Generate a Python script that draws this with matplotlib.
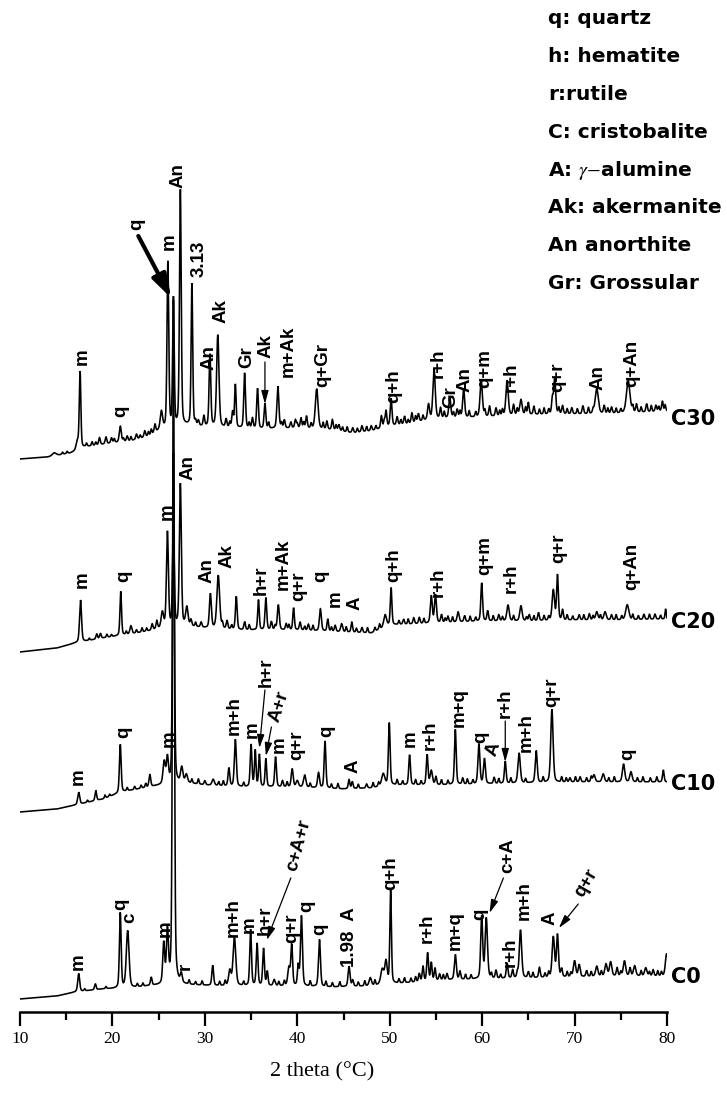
import numpy as np
import matplotlib
matplotlib.use("Agg")
import matplotlib.pyplot as plt

W, H = 727, 1094
AX_L, AX_R, AX_B = 20, 667, 1012   # pixel frame of the plotting area

# ---------------- data (heights in pixels) ----------------
# backgrounds: (2theta, pixel-row of the baseline)
c30_bg_x = [10, 13, 15.5, 17, 20, 22, 24, 25, 26, 28, 30, 33, 36, 40, 44, 46, 48, 50, 52, 54, 56, 60, 64, 68, 72, 76, 80]
c30_bg_y = [459, 457, 453, 447, 443, 441, 436, 431, 429, 426, 427, 428, 429, 428, 430, 433, 431, 426, 424, 420, 418, 417, 415, 414, 414, 413, 411]
c20_bg_x = [10, 14, 16, 19, 22, 24, 25.5, 28, 30, 34, 40, 45, 48, 50, 55, 60, 65, 70, 75, 80]
c20_bg_y = [652, 648, 643, 638, 634, 631, 628, 626, 628, 630, 630, 632, 633, 625, 623, 621, 621, 620, 620, 619]
c10_bg_x = [10, 14, 16, 19, 21, 24, 26, 28, 30, 34, 40, 45, 48, 50, 55, 60, 65, 70, 75, 80]
c10_bg_y = [812, 809, 805, 799, 792, 787, 784, 783, 785, 787, 787, 789, 788, 785, 785, 784, 783, 782, 782, 782]
c0_bg_x = [10, 14, 16, 19, 22, 24, 26, 28, 32, 38, 44, 48, 50, 53, 56, 60, 65, 70, 75, 80]
c0_bg_y = [999, 996, 992, 989, 988, 986, 985, 985, 986, 986, 987, 986, 984, 982, 980, 979, 978, 977, 976, 976]

# peaks: position (deg), height (px), width (deg)
c30_pos = [13.7, 16.2, 16.5, 18.6, 19.3, 19.9, 20.85, 21.6, 22.6, 23.5, 24.6, 25.3, 26.0, 26.6, 27.35, 28.6,
           29.3, 29.9, 30.55, 31.4, 32.3, 33.0, 33.3, 34.3, 35.15, 35.7, 36.5, 37.9, 38.6, 39.3, 39.8, 40.4,
           41.0, 42.1, 43.2, 43.8, 44.5, 46.0, 47.0, 48.0, 49.1, 49.6, 50.15, 50.8, 51.6, 52.4, 53.1, 54.2,
           54.8, 55.5, 56.5, 57.3, 58.0, 59.9, 60.8, 61.5, 62.7, 63.4, 64.2, 65.0, 65.6, 67.6, 67.85, 68.7,
           69.7, 70.9, 72.4, 73.2, 74.0, 75.8, 76.7, 77.8, 78.8, 79.5]
c30_amp = [3, 8, 77, 7, 7, 5, 16, 5, 5, 6, 8, 18, 166, 128, 236, 142,
           5, 10, 72, 92, 8, 15, 43, 55, 10, 40, 25, 42, 8, 6, 8, 10,
           12, 40, 8, 10, 6, 5, 6, 5, 12, 16, 27, 8, 8, 10, 8, 15,
           50, 10, 20, 8, 28, 36, 10, 8, 35, 10, 15, 12, 8, 15, 35, 8,
           6, 8, 25, 8, 6, 32, 8, 8, 6, 10]
c30_wid = [0.5, 0.3, 0.2, 0.2, 0.2, 0.2, 0.25, 0.2, 0.2, 0.2, 0.2, 0.3, 0.22, 0.2, 0.22, 0.2,
           0.2, 0.2, 0.22, 0.3, 0.2, 0.2, 0.2, 0.22, 0.2, 0.22, 0.22, 0.25, 0.2, 0.2, 0.2, 0.2,
           0.2, 0.35, 0.2, 0.2, 0.2, 0.2, 0.2, 0.2, 0.2, 0.2, 0.22, 0.2, 0.2, 0.2, 0.2, 0.25,
           0.3, 0.2, 0.25, 0.2, 0.25, 0.3, 0.2, 0.2, 0.3, 0.2, 0.3, 0.2, 0.2, 0.2, 0.25, 0.2,
           0.2, 0.2, 0.4, 0.2, 0.2, 0.45, 0.2, 0.2, 0.2, 0.2]
# small jagged features of the trace (position, height in px)
c30_rip_pos = [14.6, 15.1, 17.2, 17.8, 18.2, 20.2, 21.2, 22.0, 23.0, 23.9, 24.2, 29.0, 32.7, 34.8, 36.9, 38.3,
               40.0, 40.7, 41.5, 42.8, 44.2, 44.9, 45.4, 46.5, 47.5, 48.5, 49.4, 51.2, 52.0, 52.8, 53.6, 55.9,
               56.9, 57.6, 58.6, 59.3, 60.3, 61.9, 62.2, 63.8, 64.7, 66.2, 66.7, 67.2, 68.3, 69.2, 70.3, 71.5,
               72.0, 73.6, 74.5, 75.0, 76.3, 77.2, 78.3, 79.1, 79.8]
c30_rip_amp = [2, 2, 3, 4, 3, 4, 3, 4, 3, 4, 5, 4, 5, 5, 6, 5,
               4, 6, 5, 6, 5, 4, 5, 4, 5, 4, 6, 5, 4, 6, 5, 6,
               5, 6, 6, 5, 6, 5, 6, 6, 7, 5, 6, 5, 6, 5, 5, 6,
               4, 5, 5, 4, 6, 5, 6, 5, 6]

c20_pos = [16.55, 18.3, 18.7, 20.9, 22.0, 24.3, 24.8, 25.4, 25.95, 26.6, 27.35, 28.05, 28.5, 29.6, 30.6, 31.45,
           32.4, 33.4, 34.3, 35.8, 36.6, 37.2, 37.95, 38.8, 39.6, 40.3, 41.2, 42.5, 43.3, 44.1, 44.8, 45.9,
           47.0, 49.5, 50.15, 51.5, 52.6, 53.2, 54.5, 54.95, 55.6, 56.3, 57.4, 58.1, 59.95, 60.6, 61.8, 62.8,
           64.2, 65.1, 66.1, 67.7, 68.15, 68.7, 70.5, 71.6, 72.4, 73.3, 74.0, 75.7, 77.5, 78.7, 79.85]
c20_amp = [42, 5, 5, 44, 8, 6, 8, 15, 95, 100, 142, 18, 6, 5, 34, 53,
           8, 33, 8, 30, 32, 8, 25, 6, 22, 8, 6, 22, 12, 6, 8, 10,
           5, 12, 37, 5, 6, 6, 27, 28, 8, 6, 10, 6, 38, 10, 6, 16,
           15, 6, 8, 30, 45, 10, 5, 6, 8, 8, 5, 15, 5, 5, 10]
c20_wid = [0.25, 0.2, 0.2, 0.2, 0.25, 0.2, 0.2, 0.3, 0.25, 0.22, 0.25, 0.3, 0.2, 0.2, 0.25, 0.35,
           0.2, 0.22, 0.2, 0.2, 0.22, 0.2, 0.25, 0.2, 0.2, 0.2, 0.2, 0.25, 0.2, 0.2, 0.25, 0.2,
           0.2, 0.35, 0.2, 0.2, 0.2, 0.2, 0.25, 0.25, 0.2, 0.2, 0.25, 0.2, 0.22, 0.2, 0.2, 0.3,
           0.3, 0.2, 0.2, 0.3, 0.22, 0.2, 0.2, 0.2, 0.3, 0.3, 0.2, 0.4, 0.2, 0.2, 0.15]
c20_rip_pos = [17.5, 19.4, 19.9, 21.5, 22.6, 23.2, 23.7, 29.0, 31.9, 32.9, 34.8, 37.6, 39.1, 40.8, 41.7, 43.7,
               45.3, 46.4, 47.6, 48.4, 48.9, 51.0, 52.0, 53.7, 56.0, 56.8, 58.7, 59.3, 61.2, 62.2, 63.4, 64.8,
               65.6, 66.7, 67.2, 69.2, 69.8, 71.0, 72.0, 72.8, 74.5, 75.1, 76.3, 76.9, 78.1, 79.3]
c20_rip_amp = [2, 3, 2, 3, 3, 4, 3, 4, 5, 4, 5, 4, 5, 4, 5, 4,
               5, 4, 5, 4, 5, 4, 5, 5, 4, 5, 5, 4, 5, 4, 5, 4,
               5, 5, 4, 5, 4, 5, 4, 5, 5, 4, 5, 4, 5, 4]

c10_pos = [16.35, 18.2, 20.85, 24.05, 25.6, 25.95, 26.6, 27.5, 28.0, 30.0, 30.9, 32.6, 33.3, 35.0, 35.45, 35.9,
           36.6, 37.65, 38.4, 39.45, 40.0, 40.8, 42.3, 43.0, 45.6, 45.95, 47.5, 49.3, 49.95, 52.15, 54.05, 54.5,
           55.0, 57.1, 57.9, 59.65, 60.25, 61.3, 62.5, 64.0, 65.85, 67.55, 69.5, 70.6, 72.1, 73.1, 75.3, 76.1, 79.6]
c10_amp = [12, 10, 48, 12, 22, 25, 330, 15, 8, 4, 6, 18, 47, 42, 36, 32,
           28, 30, 6, 18, 6, 12, 15, 47, 9, 7, 4, 12, 62, 30, 30, 14,
           8, 55, 6, 40, 25, 6, 22, 30, 32, 73, 4, 5, 7, 8, 18, 10, 12]
c10_wid = [0.25, 0.2, 0.22, 0.22, 0.3, 0.25, 0.22, 0.3, 0.3, 0.2, 0.3, 0.22, 0.25, 0.22, 0.2, 0.2,
           0.2, 0.22, 0.2, 0.25, 0.3, 0.3, 0.25, 0.22, 0.2, 0.2, 0.2, 0.4, 0.22, 0.22, 0.22, 0.3,
           0.2, 0.22, 0.2, 0.25, 0.25, 0.2, 0.22, 0.3, 0.25, 0.3, 0.2, 0.2, 0.3, 0.3, 0.3, 0.3, 0.2]
c10_rip_pos = [17.3, 19.2, 19.7, 21.6, 22.4, 23.1, 23.6, 28.6, 29.3, 31.5, 32.0, 34.2, 38.9, 41.4, 43.7, 44.4,
               46.6, 48.2, 48.8, 50.8, 51.4, 52.8, 53.4, 55.6, 56.3, 58.4, 59.0, 61.8, 63.1, 64.7, 66.6, 68.6,
               69.1, 70.1, 71.3, 71.8, 73.7, 74.3, 76.8, 77.4, 78.2, 78.9]
c10_rip_amp = [2, 3, 2, 3, 3, 3, 4, 4, 5, 4, 5, 4, 5, 4, 4, 5,
               4, 5, 4, 5, 4, 5, 4, 5, 4, 5, 4, 5, 5, 4, 5, 5,
               4, 5, 4, 5, 4, 5, 4, 5, 4, 5]

c0_pos = [16.35, 18.15, 20.85, 21.65, 24.2, 25.55, 25.95, 26.6, 27.45, 30.85, 32.7, 33.2, 34.95, 35.65, 36.35, 36.75,
          37.5, 39.1, 39.4, 40.1, 40.45, 42.4, 45.6, 46.0, 47.9, 49.2, 49.6, 50.1, 53.2, 53.6, 54.1, 54.5,
          54.9, 55.4, 56.2, 57.1, 57.6, 59.95, 60.45, 61.5, 62.7, 63.3, 64.15, 65.0, 66.2, 67.7, 68.15, 68.6,
          70.0, 70.5, 71.3, 72.4, 73.4, 73.9, 74.6, 75.4, 76.0, 76.5, 77.7, 78.5, 79.95]
c0_amp = [18, 6, 75, 57, 8, 40, 52, 684, 9, 20, 15, 48, 56, 42, 37, 14,
          6, 18, 40, 20, 70, 47, 20, 6, 8, 15, 22, 93, 8, 15, 28, 18,
          12, 6, 6, 25, 8, 62, 60, 8, 15, 8, 48, 6, 10, 40, 42, 8,
          16, 12, 6, 10, 12, 14, 8, 15, 8, 10, 8, 6, 22]
c0_wid = [0.25, 0.2, 0.22, 0.35, 0.2, 0.25, 0.25, 0.22, 0.25, 0.22, 0.3, 0.35, 0.22, 0.22, 0.22, 0.2,
          0.25, 0.3, 0.22, 0.2, 0.25, 0.25, 0.25, 0.2, 0.3, 0.4, 0.3, 0.2, 0.2, 0.2, 0.22, 0.2,
          0.2, 0.2, 0.2, 0.25, 0.2, 0.25, 0.3, 0.2, 0.22, 0.2, 0.3, 0.2, 0.2, 0.3, 0.25, 0.2,
          0.3, 0.25, 0.2, 0.3, 0.3, 0.3, 0.2, 0.3, 0.2, 0.3, 0.3, 0.2, 0.3]
c0_rip_pos = [17.0, 19.3, 22.7, 23.3, 28.3, 29.0, 29.7, 31.6, 32.2, 34.2, 38.0, 38.6, 41.4, 43.1, 43.8, 44.6,
              46.6, 47.3, 48.4, 51.0, 51.6, 52.3, 52.8, 55.8, 58.2, 58.8, 61.0, 62.0, 63.8, 65.5, 66.8, 67.2,
              69.2, 69.6, 71.8, 72.9, 75.0, 77.2, 78.1, 79.0, 79.4]
c0_rip_amp = [2, 2, 3, 3, 4, 3, 4, 4, 5, 4, 4, 5, 5, 5, 4, 5,
              4, 5, 5, 4, 5, 4, 5, 5, 5, 4, 5, 4, 5, 5, 4, 5,
              5, 4, 5, 5, 4, 5, 4, 5, 4]

sample_names = ["C30", "C20", "C10", "C0"]
sample_label_y = [419, 622, 784, 977]

# phase labels: text, 2theta, pixel row of the label's lower end, rotation
ann_text = ["m", "q", "q", "m", "An", "3.13", "An", "Ak", "Gr", "Ak", "m+Ak", "q+Gr", "q+h", "r+h", "Gr", "An",
            "q+m", "r+h", "q+r", "An", "q+An",
            "An", "m", "m", "q", "An", "Ak", "h+r", "m+Ak", "q+r", "q", "m", "A", "q+h", "r+h", "q+m", "r+h",
            "q+r", "q+An",
            "m", "q", "m", "m+h", "m", "h+r", "A+r", "m", "q+r", "q", "A", "m", "r+h", "m+q", "q", "A", "r+h",
            "m+h", "q+r", "q",
            "m", "q", "c", "m", "r", "m+h", "m", "h+r", "c+A+r", "q+r", "q", "q", "1.98  A", "q+h", "r+h",
            "m+q", "q", "c+A", "r+h", "m+h", "A", "q+r"]
ann_x = [16.7, 20.9, 22.6, 26.1, 27.1, 29.4, 30.4, 31.8, 34.5, 36.6, 39.0, 42.8, 50.4, 55.3, 56.6, 58.1,
         60.3, 63.1, 68.2, 72.5, 76.2,
         28.2, 25.9, 16.7, 21.2, 30.2, 32.4, 36.1, 38.5, 40.2, 42.5, 44.1, 46.3, 50.4, 55.2, 60.3, 63.1,
         68.3, 76.2,
         16.3, 21.2, 26.1, 33.2, 35.1, 36.6, 38.0, 38.1, 39.9, 43.2, 46.0, 52.2, 54.4, 57.5, 59.8, 61.2, 62.5,
         64.8, 67.5, 75.8,
         16.3, 20.9, 21.9, 25.7, 27.9, 33.05, 34.8, 36.55, 40.2, 39.4, 41.0, 42.4, 45.6, 50.1, 54.1,
         57.1, 59.7, 62.8, 63.0, 64.6, 67.3, 71.3]
ann_y = [365, 417, 230, 250, 188, 277, 370, 323, 368, 358, 377, 387, 403, 378, 408, 392,
         388, 392, 392, 390, 387,
         480, 520, 588, 582, 583, 568, 595, 590, 601, 582, 607, 610, 582, 597, 575, 593,
         563, 590,
         785, 738, 747, 735, 738, 687, 724, 753, 760, 737, 773, 747, 750, 727, 743, 758, 718,
         752, 707, 760,
         970, 910, 923, 937, 970, 937, 933, 935, 873, 943, 912, 935, 967, 890, 943,
         950, 920, 873, 967, 920, 925, 900]
ann_rot = [90] * 21 + [90] * 18 + [90, 90, 90, 90, 90, 90, 72, 90, 90, 90, 90, 90, 90, 90, 90, 72, 90, 90, 90, 90] + \
          [90, 90, 90, 90, 90, 90, 90, 90, 75, 90, 90, 90, 90, 90, 90, 90, 90, 90, 90, 90, 90, 60]

# arrows: start (2theta, px row) -> end (2theta, px row), heavy?
arr_x0 = [22.8, 36.5, 36.5, 37.2, 62.5, 39.3, 62.3, 70.4]
arr_y0 = [236, 362, 690, 727, 721, 878, 878, 904]
arr_x1 = [26.35, 36.5, 35.9, 36.6, 62.5, 36.7, 60.8, 68.3]
arr_y1 = [298, 404, 748, 756, 762, 940, 913, 928]
arr_heavy = [True, False, False, False, False, False, False, False]

legend_lines = ["q: quartz", "h: hematite", "r:rutile", "C: cristobalite", r"A: $\gamma{-}$alumine",
                "Ak: akermanite", "An anorthite", "Gr: Grossular"]

# ---------------- drawing ----------------
plt.rcParams["mathtext.fontset"] = "stix"
fig = plt.figure(figsize=(W / 100, H / 100), dpi=100)
fig.patch.set_facecolor("white")
ax = fig.add_axes([AX_L / W, (H - AX_B) / H, (AX_R - AX_L) / W, AX_B / H])
ax.set_xlim(10, 80)
ax.set_ylim(0, AX_B)

two_theta = np.arange(10, 80.0001, 0.01)


def row(py):
    return AX_B - np.asarray(py, dtype=float)


def add_peaks(y, pos, amp, wid):
    for p, a, w in zip(pos, amp, wid):
        d = (two_theta - p) / (w / 2)
        y = y + a * (0.65 * np.exp(-np.log(2) * d * d) + 0.35 / (1 + d * d))
    return y


def pattern(bx, by, pos, amp, wid, rpos, ramp):
    y = row(np.interp(two_theta, bx, by))
    y = add_peaks(y, pos, amp, wid)
    y = add_peaks(y, rpos, ramp, [0.16] * len(rpos))
    return y


series = [(c30_bg_x, c30_bg_y, c30_pos, c30_amp, c30_wid, c30_rip_pos, c30_rip_amp),
          (c20_bg_x, c20_bg_y, c20_pos, c20_amp, c20_wid, c20_rip_pos, c20_rip_amp),
          (c10_bg_x, c10_bg_y, c10_pos, c10_amp, c10_wid, c10_rip_pos, c10_rip_amp),
          (c0_bg_x, c0_bg_y, c0_pos, c0_amp, c0_wid, c0_rip_pos, c0_rip_amp)]
for s in series:
    ax.plot(two_theta, pattern(*s), color="black", lw=1.15, solid_joinstyle="miter")

for sp in ["top", "left", "right"]:
    ax.spines[sp].set_visible(False)
ax.spines["bottom"].set_linewidth(1.8)
ax.set_yticks([])
ax.set_xticks(np.arange(10, 81, 10))
ax.set_xticks(np.arange(15, 80, 10), minor=True)
ax.tick_params(axis="x", which="major", direction="out", length=10, width=1.6, pad=4,
               labelsize=12.5, labelfontfamily="Liberation Serif")
ax.tick_params(axis="x", which="minor", direction="out", length=6, width=1.6)

lab_font = dict(family="Liberation Sans", weight="bold", size=13.5)
for t, x, y, r in zip(ann_text, ann_x, ann_y, ann_rot):
    ax.text(x, row(y), t, rotation=r, ha="center", va="bottom", **lab_font)

for x0, y0, x1, y1, hv in zip(arr_x0, arr_y0, arr_x1, arr_y1, arr_heavy):
    if hv:
        props = dict(arrowstyle="-|>,head_width=0.45,head_length=1.4", lw=3.0, color="black",
                     shrinkA=0, shrinkB=0)
    else:
        props = dict(arrowstyle="-|>,head_width=0.22,head_length=0.8", lw=0.9, color="black",
                     shrinkA=0, shrinkB=0)
    ax.annotate("", xy=(x1, row(y1)), xytext=(x0, row(y0)), arrowprops=props)

for name, py in zip(sample_names, sample_label_y):
    fig.text(671 / W, 1 - py / H, name, ha="left", va="center",
             family="DejaVu Sans", weight="bold", size=15)

for i, t in enumerate(legend_lines):
    fig.text(548 / W, 1 - (18 + 38 * i) / H, t, ha="left", va="center",
             family="DejaVu Sans", weight="bold", size=14.5)

fig.text(322 / W, 1 - 1072 / H, "2 theta (\u00b0C)", ha="center", va="center",
         family="Liberation Serif", size=16)

fig.savefig("out.png", dpi=100, facecolor="white")
